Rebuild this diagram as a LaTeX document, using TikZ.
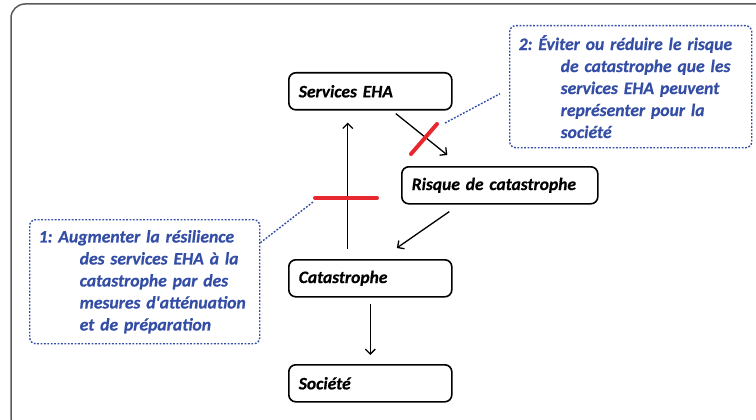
\documentclass[tikz,border=0pt]{standalone}
\usepackage{fontspec}
\setmainfont{Carlito}[BoldItalicFeatures={FakeBold=0.6}]
\usetikzlibrary{arrows.meta}
\definecolor{noteblue}{RGB}{52,78,165}
\definecolor{barred}{RGB}{232,40,48}
\definecolor{framegray}{RGB}{90,90,90}
\begin{document}
\frenchspacing
\begin{tikzpicture}[x=1pt,y=-1pt,
  mainbox/.style={draw=black,line width=1.6pt,rounded corners=7pt,inner xsep=10pt,
    minimum height=37pt,text width=#1,align=left,anchor=north west,
    font=\fontsize{17.5}{20}\selectfont\bfseries\itshape},
  notebox/.style={draw=noteblue,line width=1.4pt,dash pattern=on 1.8pt off 1.6pt,
    rounded corners=6pt,inner xsep=9pt,inner ysep=0pt,text=noteblue,align=left,
    font=\fontsize{17.6}{22}\selectfont\bfseries\itshape},
  link/.style={draw=noteblue,line width=1.4pt,dash pattern=on 1.8pt off 1.6pt},
  arr/.style={line width=1.3pt,-{Straight Barb[length=5pt,width=10pt,line width=1.3pt]}},
  bar/.style={draw=barred,line width=4pt,line cap=round}]
\useasboundingbox (0,0) rectangle (756,420);
\draw[framegray,line width=1.5pt,rounded corners=14pt] (11,4) rectangle (775,431);

\node[mainbox=143pt] (s) at (288,72) {Services EHA};
\node[mainbox=176pt] (r) at (401,166) {Risque de catastrophe};
\node[mainbox=143pt] (c) at (288,259) {Catastrophe};
\node[mainbox=143pt] (so) at (288,364) {Société};

\node[notebox,text width=212pt,minimum height=124pt,anchor=north west] (b1) at (29,219)
 {1: Augmenter la résilience\\
  \hspace*{41pt}des services EHA à la\\
  \hspace*{41pt}catastrophe par des\\
  \hspace*{41pt}mesures d\textquotesingle atténuation\\
  \hspace*{41pt}et de préparation};
\node[notebox,text width=224pt,minimum height=122pt,anchor=north west] (b2) at (509,25)
 {2: Éviter ou réduire le risque\\
  \hspace*{42pt}de catastrophe que les\\
  \hspace*{42pt}services EHA peuvent\\
  \hspace*{42pt}représenter pour la\\
  \hspace*{42pt}société};

\draw[arr] ([xshift=-22.5pt,yshift=10pt]c.north) -- ([xshift=-22.5pt,yshift=-12pt]s.south);
\draw[arr] ([xshift=25.5pt,yshift=-3pt]s.south) -- ([xshift=-52.5pt,yshift=11pt]r.north);
\draw[arr] ([xshift=-50.5pt,yshift=-7pt]r.south) -- ([xshift=26.5pt,yshift=11pt]c.north);
\draw[arr] ([yshift=-6pt]c.south) -- ([yshift=9pt]so.north);

\coordinate (r1a) at (315,198);
\coordinate (r1b) at (377,198);
\coordinate (r2a) at (411,154);
\coordinate (r2b) at (437,124);
\draw[bar] (r1a) -- (r1b);
\draw[bar] (r2a) -- (r2b);

\coordinate (l1) at (313,202);
\coordinate (l2) at (445,123);
\draw[link] ([yshift=39pt]b1.east) -- (l1);
\draw[link] (l2) -- ([xshift=-9pt,yshift=-7pt]b2.west);
\end{tikzpicture}
\end{document}
